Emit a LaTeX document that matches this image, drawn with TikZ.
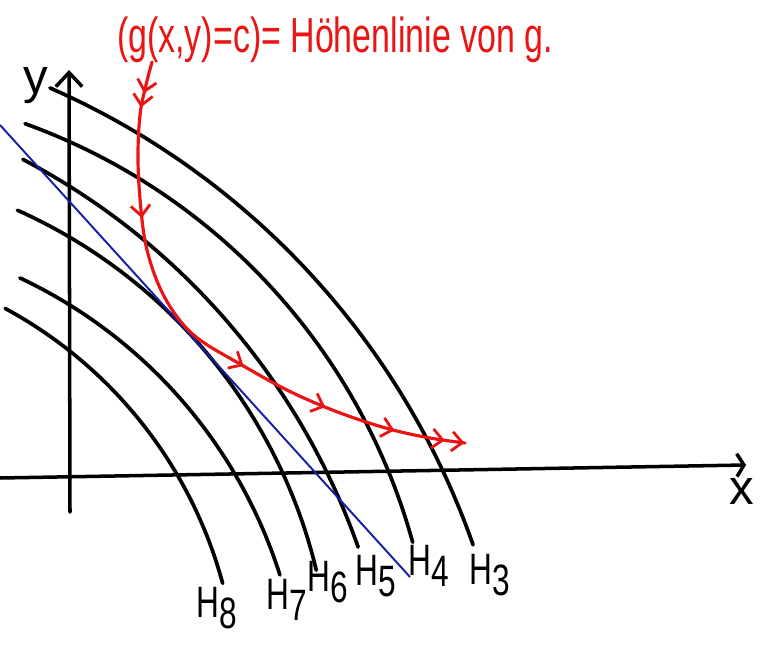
\documentclass[tikz,border=0pt]{standalone}
\usepackage{fontspec}
\setmainfont{Liberation Sans}
\usetikzlibrary{arrows.meta,decorations.markings}
\newcommand{\hlab}[1]{\scalebox{0.72}[1]{H\raisebox{-0.45ex}{#1}}}
\begin{document}
\begin{tikzpicture}[x=0.02cm,y=-0.02cm,
  axis/.style={line width=2pt, line cap=round},
  level/.style={line width=2.1pt, line cap=round},
  tangent/.style={line width=1.1pt, draw={rgb,255:red,20;green,30;blue,170}},
  gradpath/.style={line width=1.8pt, draw={rgb,255:red,235;green,20;blue,20}, line cap=round},
  hlabel/.style={font=\fontsize{25}{27}\selectfont, inner sep=0pt},
  redtext/.style={text={rgb,255:red,235;green,20;blue,20}, font=\fontsize{28}{30}\selectfont, inner sep=0pt},
  chev/.tip={Straight Barb[length=6pt,width=11pt,line width=1.6pt]}
]
\useasboundingbox (0,0) rectangle (768,648);
\fill[white] (0,0) rectangle (768,648);

% axes
\coordinate (ybot) at (70,512);
\coordinate (ytop) at (69,70);
\coordinate (xleft) at (0,478);
\coordinate (xright) at (746,465);
\draw[axis, -{Straight Barb[length=8pt,width=15pt,line width=2pt]}] (ybot) -- (ytop);
\draw[axis, -{Straight Barb[length=4pt,width=13pt,line width=2pt]}] (xleft) -- (xright);
\node[font=\fontsize{28}{30}\selectfont, inner sep=0pt] (ylab) at (36,86) {y};
\node[font=\fontsize{28}{30}\selectfont, inner sep=0pt] (xlab) at (742,492) {x};

% level curves (circular arcs)
\draw[level] plot[domain=-66.3:-19.3, samples=60] ({-264+781*cos(\x)}, {803+781*sin(\x)}) coordinate (e3);
\draw[level] plot[domain=-70.2:-15.4, samples=60] ({-185+620*cos(\x)}, {707+620*sin(\x)}) coordinate (e4);
\draw[level] plot[domain=-62.3:-19.4, samples=60] ({-303+701*cos(\x)}, {780+701*sin(\x)}) coordinate (e5);
\draw[level] plot[domain=-65.9:-13.5, samples=60] ({-199+530*cos(\x)}, {694+530*sin(\x)}) coordinate (e6);
\draw[level] plot[domain=-64.8:-17.6, samples=60] ({-190+493*cos(\x)}, {724+493*sin(\x)}) coordinate (e7);
\draw[level] plot[domain=-61.6:-15.1, samples=60] ({-206+444*cos(\x)}, {699+444*sin(\x)}) coordinate (e8);

% labels
\node[hlabel] (h8) at (217,608) {\hlab{8}};
\node[hlabel] (h7) at (287,600) {\hlab{7}};
\node[hlabel] (h6) at (328,582) {\hlab{6}};
\node[hlabel] (h5) at (376,576) {\hlab{5}};
\node[hlabel] (h4) at (429,566) {\hlab{4}};
\node[hlabel] (h3) at (490,575) {\hlab{3}};

% tangent line
\coordinate (t1) at (0,125);
\coordinate (t2) at (410,577);
\draw[tangent] (t1) -- (t2);

% red path with chevrons
\draw[gradpath, postaction={decorate}, decoration={markings,
   mark=at position 0.055 with {\arrow[gradpath]{chev}},
   mark=at position 0.08 with {\arrow[gradpath]{chev}},
   mark=at position 0.27 with {\arrow[gradpath]{chev}},
   mark=at position 0.595 with {\arrow[gradpath]{chev}},
   mark=at position 0.752 with {\arrow[gradpath]{chev}},
   mark=at position 0.877 with {\arrow[gradpath]{chev}},
   mark=at position 0.965 with {\arrow[gradpath]{chev}},
   mark=at position 0.999 with {\arrow[gradpath]{chev}}}]
  plot[smooth, tension=0.6] coordinates {(152,62) (146,85) (140,115) (138,160) (141,210) (147,250) (160,288) (178,318) (200,340) (240,364) (283,388) (320,405) (357,419) (393,430) (430,438) (465,443)};

\node[redtext] (title) at (335,40) {\scalebox{0.69}[1]{(g(x,y)=c)= Höhenlinie von g.}};
\end{tikzpicture}
\end{document}
